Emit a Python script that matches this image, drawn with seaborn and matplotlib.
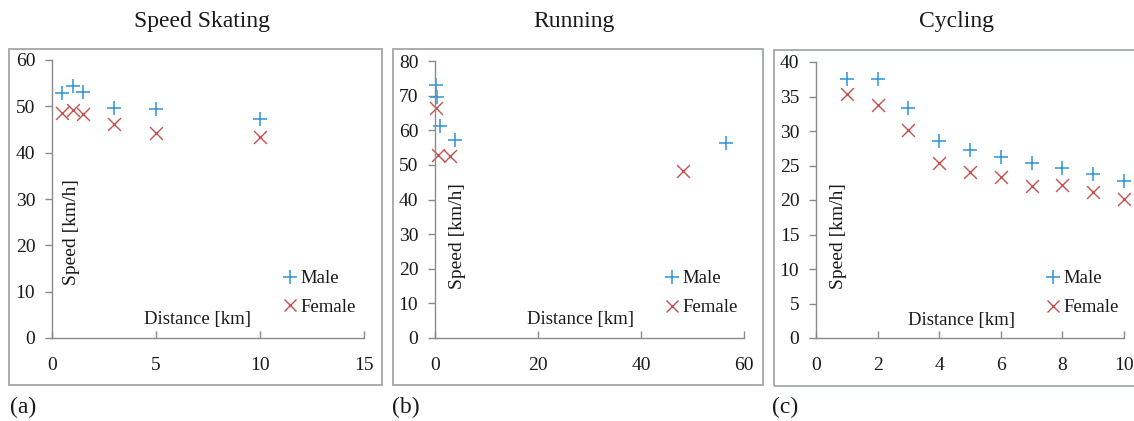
import matplotlib
matplotlib.use("Agg")
import matplotlib.pyplot as plt
from matplotlib.patches import Rectangle
from matplotlib.lines import Line2D
import seaborn as sns
import pandas as pd

sns.set_theme(style="white")
plt.rcParams['font.family'] = ['Liberation Serif', 'DejaVu Serif']

# ---- data ----
skate_m_x = [0.5, 1.0, 1.5, 3.0, 5.0, 10.0]
skate_m_y = [52.9, 54.3, 53.1, 49.7, 49.5, 47.3]
skate_f_x = [0.5, 1.0, 1.5, 3.0, 5.0, 10.0]
skate_f_y = [48.6, 49.3, 48.4, 46.2, 44.3, 43.4]

run_m_x = [0.1, 0.4, 1.0, 3.9, 56.5]
run_m_y = [73.1, 69.6, 61.1, 57.3, 56.3]
run_f_x = [0.2, 0.5, 2.9, 48.2]
run_f_y = [66.4, 52.9, 52.7, 48.1]

cyc_m_x = [1, 2, 3, 4, 5, 6, 7, 8, 9, 10]
cyc_m_y = [37.6, 37.5, 33.4, 28.5, 27.3, 26.2, 25.3, 24.6, 23.8, 22.8]
cyc_f_x = [1, 2, 3, 4, 5, 6, 7, 8, 9, 10]
cyc_f_y = [35.4, 33.7, 30.2, 25.3, 24.1, 23.3, 22.0, 22.2, 21.1, 20.2]

titles = ["Speed Skating", "Running", "Cycling"]
panel_tags = ["(a)", "(b)", "(c)"]
x_limits = [(0, 15), (0, 60), (0, 10)]
x_ticks = [[0, 5, 10, 15], [0, 20, 40, 60], [0, 2, 4, 6, 8, 10]]
y_limits = [(0, 60), (0, 80), (0, 40)]
y_ticks = [list(range(0, 61, 10)), list(range(0, 81, 10)), list(range(0, 41, 5))]
series_names = ["Male", "Female"]

MALE_C = "#2e93db"
FEMALE_C = "#c9504c"
GRID_C = "#8a8a8a"
TXT_C = "#1a1a1a"

W, H = 1134, 421
fig = plt.figure(figsize=(W / 100, H / 100), dpi=100)

def fx(px):
    return px / W

def fy(py):
    return 1 - py / H

# axes rectangles in pixels: left, right, top, bottom
ax_px = [(52, 364, 60, 338), (435, 744, 61, 338), (816, 1124, 62, 338)]
frame_px = [(9, 382, 49, 385), (393, 763, 49, 385), (774, 1140, 50, 386)]
title_x = [202, 574, 957]
tag_x = [10, 392, 772]
ylab_pos = [(0.062, 0.381), (0.073, 0.368), (0.073, 0.368)]
xlab_pos = [(0.465, 0.065), (0.472, 0.065), (0.471, 0.062)]
leg_pos = [(0.740, 0.162), (0.744, 0.162), (0.744, 0.162)]

data = [
    (skate_m_x, skate_m_y, skate_f_x, skate_f_y),
    (run_m_x, run_m_y, run_f_x, run_f_y),
    (cyc_m_x, cyc_m_y, cyc_f_x, cyc_f_y),
]

for i in range(3):
    # frame
    l, r, t, b = frame_px[i]
    fig.patches.append(Rectangle((fx(l), fy(b)), fx(r - l), (b - t) / H,
                                 transform=fig.transFigure, fill=False,
                                 edgecolor="#a3a7ae", linewidth=1.3, zorder=0))
    L, R, T, B = ax_px[i]
    ax = fig.add_axes([fx(L), fy(B), fx(R - L), (B - T) / H])
    ax.set_facecolor("none")
    mx, my, fxv, fyv = data[i]
    dm = pd.DataFrame({"Distance": mx, "Speed": my})
    df = pd.DataFrame({"Distance": fxv, "Speed": fyv})
    sns.scatterplot(data=dm, x="Distance", y="Speed", ax=ax, marker="+",
                    color=MALE_C, s=110, linewidth=1.1, legend=False, clip_on=False)
    sns.scatterplot(data=df, x="Distance", y="Speed", ax=ax, marker="x",
                    color=FEMALE_C, s=85, linewidth=1.0, legend=False, clip_on=False)
    ax.set_xlim(*x_limits[i])
    ax.set_ylim(*y_limits[i])
    ax.set_xticks(x_ticks[i])
    ax.set_yticks(y_ticks[i])
    for side in ["top", "right"]:
        ax.spines[side].set_visible(False)
    for side in ["left", "bottom"]:
        ax.spines[side].set_color(GRID_C)
        ax.spines[side].set_linewidth(1.0)
    ax.tick_params(axis="y", direction="out", length=5, width=1.0, color=GRID_C,
                   labelsize=14, labelcolor=TXT_C, pad=7, left=True)
    ax.tick_params(axis="x", direction="in", length=5, width=1.0, color=GRID_C,
                   labelsize=14, labelcolor=TXT_C, pad=14, bottom=True)
    ax.set_ylabel("Speed [km/h]", fontsize=14, color=TXT_C)
    ax.yaxis.label.set_verticalalignment("center")
    ax.yaxis.set_label_coords(*ylab_pos[i])
    ax.set_xlabel("Distance [km]", fontsize=13.5, color=TXT_C)
    ax.xaxis.label.set_verticalalignment("center")
    ax.xaxis.set_label_coords(*xlab_pos[i])

    handles = [
        Line2D([], [], linestyle="none", marker="+", color=MALE_C, markersize=10, markeredgewidth=1.1),
        Line2D([], [], linestyle="none", marker="x", color=FEMALE_C, markersize=9, markeredgewidth=1.0),
    ]
    ax.legend(handles, series_names, loc="center left", bbox_to_anchor=leg_pos[i],
              frameon=False, fontsize=13.5, handlelength=0.8, handletextpad=0.15,
              labelspacing=0.62, borderpad=0, borderaxespad=0, labelcolor=TXT_C)

    fig.text(fx(title_x[i]), fy(22), titles[i], ha="center", va="center",
             fontsize=17, color=TXT_C)
    fig.text(fx(tag_x[i]), fy(407), panel_tags[i], ha="left", va="center",
             fontsize=17, color=TXT_C)

fig.savefig("out.png", dpi=100)
